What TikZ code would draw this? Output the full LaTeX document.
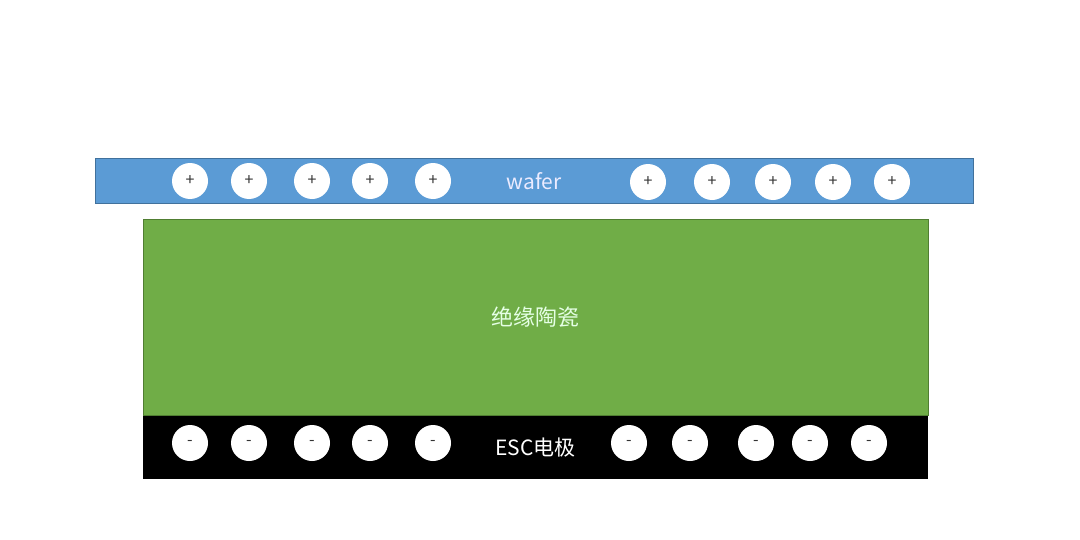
\documentclass[tikz,border=0pt]{standalone}
\usepackage{fontspec}
\setmainfont{Noto Sans CJK SC}
\usetikzlibrary{positioning}
\definecolor{waferblue}{HTML}{5B9BD5}
\definecolor{waferedge}{HTML}{41719C}
\definecolor{ceramic}{HTML}{70AD47}
\definecolor{ceramicedge}{HTML}{507E32}
\tikzstyle{wafer} = [rectangle, minimum width=439pt, minimum height=22.5pt, draw=waferedge, line width=0.4pt, fill=waferblue, text=blue!8, font=\fontsize{10.5}{12}\selectfont]
\tikzstyle{ceramic} = [rectangle, minimum width=392.5pt, minimum height=98pt, draw=ceramicedge, line width=0.3pt, fill=ceramic, text=green!10, font=\fontsize{11}{12}\selectfont]
\tikzstyle{electrode} = [rectangle, minimum width=392.5pt, minimum height=31.5pt, fill=black, text=white, font=\fontsize{10.5}{12}\selectfont]
\tikzstyle{charge} = [circle, minimum size=18pt, inner sep=0pt, fill=white, text=black!80, font=\fontsize{8}{8}\selectfont]

\begin{document}
\begin{tikzpicture}[x=0.5pt, y=-0.5pt]
	\useasboundingbox (0,0) rectangle (1080,540);
	
	\node (W) [wafer] at (534,181) {wafer};
	\node (C) [ceramic] at (535.5,317) {绝缘陶瓷};
	\node (E) [electrode, below=0pt of C] {ESC电极};
	
	% wafer: positive charges
	\node (P1) [charge] at (190,181) {+};
	\node (P2) [charge] at (249,181) {+};
	\node (P3) [charge] at (312,181) {+};
	\node (P4) [charge] at (370,181) {+};
	\node (P5) [charge] at (433,181) {+};
	\node (P6) [charge] at (648,182) {+};
	\node (P7) [charge] at (712,182) {+};
	\node (P8) [charge] at (773,182) {+};
	\node (P9) [charge] at (833,182) {+};
	\node (P10) [charge] at (892,182) {+};
	
	% electrode: negative charges
	\node (N1) [charge] at (190,443) {-};
	\node (N2) [charge] at (249,443) {-};
	\node (N3) [charge] at (312,443) {-};
	\node (N4) [charge] at (370,443) {-};
	\node (N5) [charge] at (433,443) {-};
	\node (N6) [charge] at (629,443) {-};
	\node (N7) [charge] at (690,443) {-};
	\node (N8) [charge] at (756,443) {-};
	\node (N9) [charge] at (810,443) {-};
	\node (N10) [charge] at (869,443) {-};
\end{tikzpicture}
\end{document}
